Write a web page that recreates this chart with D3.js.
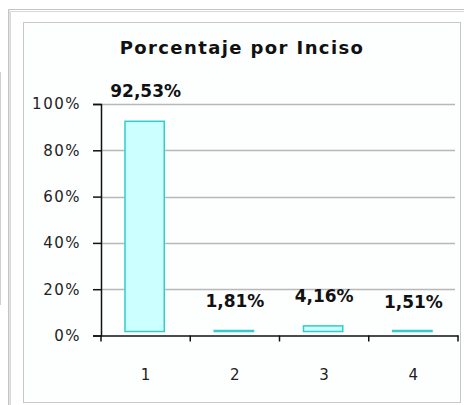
<!DOCTYPE html>
<html>
<head>
<meta charset="utf-8">
<script src="https://cdn.jsdelivr.net/npm/d3@7"></script>
<style>
  html, body { margin: 0; padding: 0; background: #fff; }
  svg { display: block; }
</style>
</head>
<body>
<div id="chart"></div>
<script>
// ── DATA ─────────────────────────────────────
const TITLE = 'Porcentaje por Inciso';
const CATEGORIES = ['1', '2', '3', '4'];
const VALUES = [92.53, 1.81, 4.16, 1.51];
const Y_TICKS = [0, 20, 40, 60, 80, 100];

// ── COLORS ───────────────────────────────────
const BAR_FILL = '#ccffff';
const BAR_STROKE = '#33cccc';
const GRID = '#b8b8b8';
const FRAME = '#c8c8c8';

const fmtPct = v => v.toFixed(2).replace('.', ',') + '%';

// ── SVG ──────────────────────────────────────
const W = 464, H = 405;
const svg = d3.select('#chart').append('svg')
  .attr('width', W)
  .attr('height', H);

// outer frame (double grey line)
svg.append('path')
  .attr('d', `M8.5,${H} V9.5 H${W}`)
  .attr('fill', 'none').attr('stroke', '#c4c4c4');
svg.append('path')
  .attr('d', `M10.5,${H} V11.5 H${W}`)
  .attr('fill', 'none').attr('stroke', '#d8d8d8');
svg.append('line')
  .attr('x1', 9.5).attr('x2', 9.5).attr('y1', 10).attr('y2', H)
  .attr('stroke', '#e4e4e4');

// stray strip on left edge
svg.append('line')
  .attr('x1', 0.5).attr('x2', 0.5).attr('y1', 72).attr('y2', 305)
  .attr('stroke', '#d0d0d0');

// inner chart area
svg.append('rect')
  .attr('x', 23.5).attr('y', 22.5)
  .attr('width', 437).attr('height', 380)
  .attr('fill', '#fdfefe')
  .attr('stroke', FRAME);

// ── SCALES ───────────────────────────────────
const x = d3.scaleBand()
  .domain(CATEGORIES)
  .range([101, 458])
  .padding(0);

const y = d3.scaleLinear()
  .domain([0, 100])
  .range([335.5, 104]);

const barW = x.bandwidth() * 0.44;

// ── TITLE ────────────────────────────────────
svg.append('text')
  .attr('x', 242)
  .attr('y', 54)
  .attr('text-anchor', 'middle')
  .attr('font-family', 'DejaVu Sans, sans-serif')
  .attr('font-weight', 'bold')
  .attr('font-size', 18)
  .attr('letter-spacing', 1.4)
  .attr('fill', '#111')
  .text(TITLE);

// ── GRID ─────────────────────────────────────
svg.append('g')
  .selectAll('line')
  .data(Y_TICKS.filter(t => t > 0))
  .enter()
  .append('line')
  .attr('x1', 101)
  .attr('x2', 455)
  .attr('y1', d => Math.round(y(d)) + 0.5)
  .attr('y2', d => Math.round(y(d)) + 0.5)
  .attr('stroke', GRID)
  .attr('stroke-width', 1.5);

// ── BARS ─────────────────────────────────────
const data = CATEGORIES.map((c, i) => ({ cat: c, v: VALUES[i] }));
const barBase = y(0) - 4;

svg.append('g')
  .selectAll('rect')
  .data(data)
  .enter()
  .append('rect')
  .attr('x', d => x(d.cat) + (x.bandwidth() - barW) / 2 - 1)
  .attr('y', d => Math.min(y(d.v), barBase - 1))
  .attr('width', barW)
  .attr('height', d => Math.max(1, barBase - y(d.v)))
  .attr('fill', BAR_FILL)
  .attr('stroke', BAR_STROKE)
  .attr('stroke-width', 1.5);

// value labels
svg.append('g')
  .selectAll('text')
  .data(data)
  .enter()
  .append('text')
  .attr('x', d => x(d.cat) + x.bandwidth() / 2)
  .attr('y', d => y(d.v) - 24)
  .attr('text-anchor', 'middle')
  .attr('font-family', 'DejaVu Sans, sans-serif')
  .attr('font-weight', 'bold')
  .attr('font-size', 17)
  .attr('fill', '#111')
  .text(d => fmtPct(d.v));

// ── AXES ─────────────────────────────────────
const yAxis = svg.append('g')
  .attr('transform', 'translate(101,0)')
  .call(d3.axisLeft(y)
    .tickValues(Y_TICKS)
    .tickSize(8)
    .tickPadding(12)
    .tickFormat(d => d + '%'));

yAxis.select('.domain').attr('stroke', '#111').attr('stroke-width', 1.5);
yAxis.selectAll('.tick line').attr('stroke', '#111').attr('stroke-width', 1.5);
yAxis.selectAll('.tick text')
  .attr('font-family', 'DejaVu Sans, sans-serif')
  .attr('font-size', 15)
  .attr('letter-spacing', 1.5)
  .attr('fill', '#222');

const xAxis = svg.append('g')
  .attr('transform', `translate(0,${y(0)})`)
  .call(d3.axisBottom(x).tickSize(0).tickPadding(34));

xAxis.select('.domain').attr('stroke', '#111').attr('stroke-width', 1.5);
xAxis.selectAll('.tick text')
  .attr('font-family', 'DejaVu Sans, sans-serif')
  .attr('font-size', 15)
  .attr('fill', '#222');

// x ticks sit on the category boundaries
const xEdges = CATEGORIES.map(c => x(c)).concat([x.range()[1]]);
svg.append('g')
  .selectAll('line')
  .data(xEdges)
  .enter()
  .append('line')
  .attr('x1', d => d)
  .attr('x2', d => d)
  .attr('y1', y(0))
  .attr('y2', y(0) + 6)
  .attr('stroke', '#111')
  .attr('stroke-width', 1.5);
</script>
</body>
</html>
